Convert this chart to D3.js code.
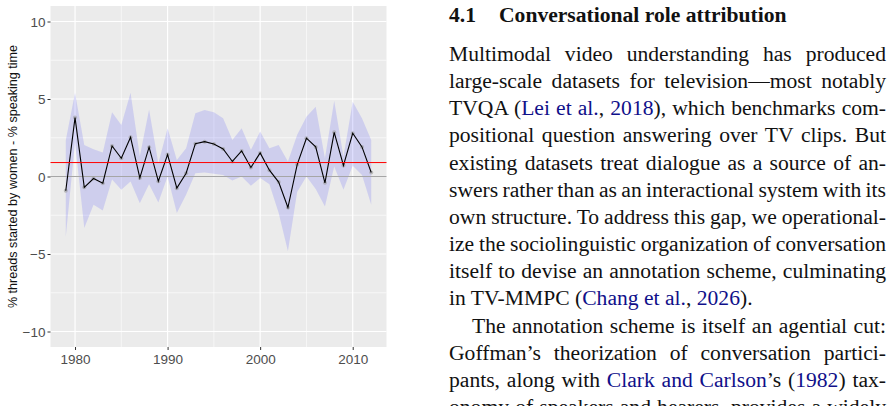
<!DOCTYPE html>
<html>
<head>
<meta charset="utf-8">
<style>
    body { margin: 0; background: #fff; }
    .wrap { position: relative; width: 895px; height: 406px; overflow: hidden; }
    svg { position: absolute; left: 0; top: 0; }
    .tick text { fill: #4d4d4d; font-family: "Liberation Sans", Arial, sans-serif; font-size: 13.5px; }
    .tick line { stroke: #333; }
    .domain { display: none; }
    .paper {
        position: absolute;
        left: 449px;
        top: 0;
        width: 437px;
        font-family: "Liberation Serif", "Times New Roman", serif;
        color: #111;
    }
    .head {
        position: absolute;
        top: 0;
        font-weight: bold;
        font-size: 21.6px;
        line-height: 30px;
        white-space: nowrap;
    }
    .line {
        font-size: 21.6px;
        line-height: 27.2px;
        height: 27.2px;
        white-space: nowrap;
    }
    .line.indent { padding-left: 23px; }
    .cite { color: #10108a; }
</style>
</head>
<body>
<div class="wrap">
    <svg width="895" height="406"></svg>
    <div class="paper">
        <div class="head" style="left:0; top:0px">4.1</div>
        <div class="head" style="left:50px; top:0px">Conversational role attribution</div>
        <div style="position:absolute; top:40.8px; width:437px">
            <div class="line"><span>Multimodal video understanding has produced</span></div>
            <div class="line"><span>large-scale datasets for television—most notably</span></div>
            <div class="line"><span>TVQA (<span class="cite">Lei et al.</span>, <span class="cite">2018</span>), which benchmarks com-</span></div>
            <div class="line"><span>positional question answering over TV clips. But</span></div>
            <div class="line"><span>existing datasets treat dialogue as a source of an-</span></div>
            <div class="line"><span>swers rather than as an interactional system with its</span></div>
            <div class="line"><span>own structure. To address this gap, we operational-</span></div>
            <div class="line"><span>ize the sociolinguistic organization of conversation</span></div>
            <div class="line"><span>itself to devise an annotation scheme, culminating</span></div>
            <div class="line last"><span>in TV-MMPC (<span class="cite">Chang et al.</span>, <span class="cite">2026</span>).</span></div>
            <div class="line indent"><span>The annotation scheme is itself an agential cut:</span></div>
            <div class="line"><span>Goffman’s theorization of conversation partici-</span></div>
            <div class="line"><span>pants, along with <span class="cite">Clark and Carlson</span>’s (<span class="cite">1982</span>) tax-</span></div>
            <div class="line"><span>onomy of speakers and hearers, provides a widely</span></div>
        </div>
    </div>
</div>

<script src="https://d3js.org/d3.v7.min.js"></script>
<script>
    // one value per year, 1979-2012
    const years = [1979, 1980, 1981, 1982, 1983, 1984, 1985, 1986, 1987, 1988, 1989, 1990,
        1991, 1992, 1993, 1994, 1995, 1996, 1997, 1998, 1999, 2000, 2001, 2002,
        2003, 2004, 2005, 2006, 2007, 2008, 2009, 2010, 2011, 2012];

    const diffValues = [-0.92, 3.8, -0.7, -0.13, -0.43, 1.97, 1.18, 2.53, -0.09, 1.89, -0.3, 1.42,
        -0.75, 0.21, 2.12, 2.25, 2.1, 1.78, 0.97, 1.65, 0.58, 1.52, 0.41, -0.36,
        -2.0, 0.77, 2.47, 1.91, -0.41, 2.85, 0.71, 2.79, 1.91, 0.26];

    const upperValues = [2.34, 5.4, 2.04, 1.76, 1.55, 4.14, 3.33, 5.4, 1.3, 4.33, 0.86, 3.11,
        1.07, 1.82, 4.08, 4.29, 4.14, 3.76, 2.36, 3.11, 1.72, 2.9, 1.82, 2.04,
        0.97, 2.7, 3.86, 4.5, 1.18, 4.89, 1.29, 4.83, 3.76, 2.36];

    const lowerValues = [-3.9, 2.2, -3.33, -1.82, -2.19, -0.2, -0.86, -0.32, -1.72, -0.5, -1.67, 0.0,
        -2.36, -1.18, 0.21, 0.26, 0.17, 0.1, -0.25, 0.0, -0.6, -0.1, -0.5, -2.36,
        -4.83, -1.0, 0.0, -0.8, -1.93, 0.64, -0.86, 0.7, 0.1, -1.82];

    const yTicks = [-10, -5, 0, 5, 10];
    const yMinor = [-7.5, -2.5, 2.5, 7.5];
    const xTicks = [1980, 1990, 2000, 2010];
    const xMinor = [1985, 1995, 2005];
    const refLine = 0.9;

    const data = years.map((yr, i) => ({ year: yr, v: diffValues[i], hi: upperValues[i], lo: lowerValues[i] }));

    const svg = d3.select("svg");
    const panel = { left: 50.5, right: 386.5, top: 6, bottom: 347 };

    const x = d3.scaleLinear()
        .domain([1977.35, 2013.65])
        .range([panel.left, panel.right]);

    const y = d3.scaleLinear()
        .domain([-11, 11])
        .range([panel.bottom, panel.top]);

    // grey panel
    svg.append("rect")
        .attr("x", panel.left)
        .attr("y", panel.top)
        .attr("width", panel.right - panel.left)
        .attr("height", panel.bottom - panel.top)
        .attr("fill", "#ebebeb");

    // grid lines
    const grid = svg.append("g").attr("stroke", "#fff");
    grid.selectAll(".ymin").data(yMinor).join("line")
        .attr("x1", panel.left).attr("x2", panel.right)
        .attr("y1", d => y(d)).attr("y2", d => y(d))
        .attr("stroke-width", 0.6);
    grid.selectAll(".xmin").data(xMinor).join("line")
        .attr("y1", panel.top).attr("y2", panel.bottom)
        .attr("x1", d => x(d)).attr("x2", d => x(d))
        .attr("stroke-width", 0.6);
    grid.selectAll(".ymaj").data(yTicks).join("line")
        .attr("x1", panel.left).attr("x2", panel.right)
        .attr("y1", d => y(d)).attr("y2", d => y(d))
        .attr("stroke-width", 1.2);
    grid.selectAll(".xmaj").data(xTicks).join("line")
        .attr("y1", panel.top).attr("y2", panel.bottom)
        .attr("x1", d => x(d)).attr("x2", d => x(d))
        .attr("stroke-width", 1.2);

    // confidence band
    const area = d3.area()
        .x(d => x(d.year))
        .y0(d => y(d.lo))
        .y1(d => y(d.hi));

    svg.append("path")
        .datum(data)
        .attr("d", area)
        .attr("fill", "blue")
        .attr("fill-opacity", 0.12);

    // zero line
    svg.append("line")
        .attr("x1", panel.left).attr("x2", panel.right)
        .attr("y1", y(0)).attr("y2", y(0))
        .attr("stroke", "#a6a6a6")
        .attr("stroke-width", 1.1);

    // points
    svg.append("g")
        .selectAll("circle")
        .data(data)
        .join("circle")
        .attr("cx", d => x(d.year))
        .attr("cy", d => y(d.v))
        .attr("r", 2)
        .attr("fill", "#9a9a9a")
        .attr("fill-opacity", 0.6);

    // the series
    const line = d3.line()
        .x(d => x(d.year))
        .y(d => y(d.v));

    svg.append("path")
        .datum(data)
        .attr("d", line)
        .attr("fill", "none")
        .attr("stroke", "#000")
        .attr("stroke-width", 1.1);

    // red reference line
    svg.append("line")
        .attr("x1", panel.left).attr("x2", panel.right)
        .attr("y1", y(refLine)).attr("y2", y(refLine))
        .attr("stroke", "#ff0000")
        .attr("stroke-width", 1);

    // axes
    svg.append("g")
        .attr("transform", `translate(${panel.left},0)`)
        .call(d3.axisLeft(y).tickValues(yTicks).tickSize(3).tickPadding(2).tickFormat(d3.format("d")))
        .selectAll(".tick text").attr("dy", "0.36em");

    svg.append("g")
        .attr("transform", `translate(0,${panel.bottom})`)
        .call(d3.axisBottom(x).tickValues(xTicks).tickSize(3).tickPadding(4).tickFormat(d3.format("d")));

    svg.append("text")
        .attr("transform", `translate(16.5,${y(0)}) rotate(-90)`)
        .attr("text-anchor", "middle")
        .attr("font-family", "Liberation Sans, Arial, sans-serif")
        .attr("font-size", "12.6px")
        .attr("fill", "#111")
        .text("% threads started by women - % speaking time");

    // justify the text column line by line, like TeX does
    d3.selectAll(".line").each(function () {
        const div = this;
        if (div.classList.contains("last")) return;
        const span = div.firstElementChild;
        const avail = 437 - (div.classList.contains("indent") ? 23 : 0);
        const natural = span.getBoundingClientRect().width;
        const spaces = (span.textContent.match(/ /g) || []).length;
        if (spaces > 0) span.style.wordSpacing = ((avail - natural) / spaces) + "px";
    });
</script>
</body>
</html>
